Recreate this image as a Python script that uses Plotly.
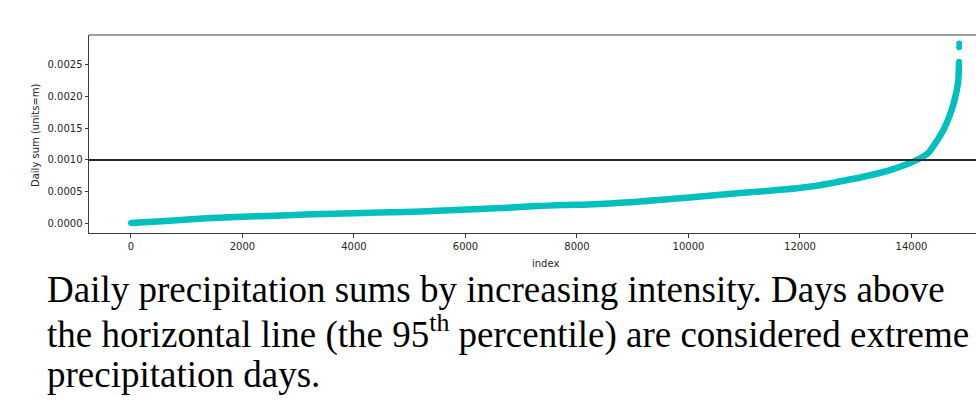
import plotly.graph_objects as go

# Sorted daily precipitation sums (metres) at selected day indices
day_index = [0, 700, 1350, 2000, 2600, 3250, 4000, 4900, 5500, 6150, 6750,
             7200, 7750, 8200, 8950, 9670, 10270, 10870, 11460, 11940, 12300,
             12600, 13200, 13670, 14030, 14300, 14570, 14720, 14800,
             14840, 14850, 14852]
daily_sum = [0.000005, 0.000042, 0.000079, 0.000105, 0.000120, 0.000142,
             0.000160, 0.000178, 0.000199, 0.000221, 0.000246, 0.000268,
             0.000289, 0.000298, 0.000331, 0.000384, 0.000426, 0.000474,
             0.000515, 0.000553, 0.000594, 0.000641, 0.000747, 0.000857,
             0.000973, 0.001110, 0.001470, 0.001790, 0.002050,
             0.002260, 0.002450, 0.002550]

# The wettest days, drawn as separate dots
top_index = [14852, 14854, 14856]
top_sum = [0.002550, 0.002780, 0.002840]

threshold = 0.0010  # 95th percentile

x_ticks = [0, 2000, 4000, 6000, 8000, 10000, 12000, 14000]
y_ticks = [0.0000, 0.0005, 0.0010, 0.0015, 0.0020, 0.0025]

caption_lines = [
    "Daily precipitation sums by increasing intensity. Days above",
    "the horizontal line (the 95<sup>th</sup> percentile) are considered extreme",
    "precipitation days.",
]

teal = "#00bfbf"
axis_col = "#3c3c3c"
tick_font = dict(family="DejaVu Sans", size=10, color="#262626")

fig = go.Figure()

fig.add_trace(go.Scatter(
    x=day_index, y=daily_sum, mode="lines",
    line=dict(color=teal, width=6.5, shape="spline", smoothing=0.6),
    hoverinfo="skip", showlegend=False))
fig.add_trace(go.Scatter(
    x=[day_index[0]] + top_index, y=[daily_sum[0]] + top_sum, mode="markers",
    marker=dict(color=teal, size=6), hoverinfo="skip", showlegend=False))

# Threshold line
fig.add_shape(type="line", xref="paper", x0=0, x1=1, yref="y",
              y0=threshold, y1=threshold, line=dict(color="#2a2a2a", width=2))
# Top frame edge
fig.add_shape(type="line", xref="paper", x0=0, x1=1, yref="paper",
              y0=1, y1=1, line=dict(color=axis_col, width=1))

fig.update_xaxes(
    range=[-753, 15157], tickvals=x_ticks, ticktext=[str(v) for v in x_ticks],
    showline=True, linecolor=axis_col, linewidth=1,
    ticks="outside", ticklen=3.5, tickwidth=1, tickcolor=axis_col,
    showgrid=False, zeroline=False, tickfont=tick_font)
fig.update_yaxes(
    range=[-0.000153, 0.002973], tickvals=y_ticks,
    ticktext=[f"{v:.4f}" for v in y_ticks],
    showline=True, linecolor=axis_col, linewidth=1,
    ticks="outside", ticklen=3.5, tickwidth=1, tickcolor=axis_col,
    showgrid=False, zeroline=False, tickfont=tick_font)

annotations = [
    dict(text="index", xref="paper", yref="paper", x=(545 - 89) / 887,
         y=-30 / 198, xanchor="center", yanchor="middle", showarrow=False,
         font=tick_font),
    dict(text="Daily sum (units=m)", xref="paper", yref="paper",
         x=-(89 - 35) / 887, y=(233 - 135) / 198, textangle=-90,
         xanchor="center", yanchor="middle", showarrow=False, font=tick_font),
]
caption_font = dict(family="Liberation Serif", size=37, color="#000000")
for i, line in enumerate(caption_lines):
    center_y = 289 + i * 42.5
    annotations.append(dict(
        text=line, xref="paper", yref="paper",
        x=(45 - 89) / 887, y=(233 - center_y) / 198,
        xanchor="left", yanchor="middle", showarrow=False, font=caption_font))

fig.update_layout(
    width=976, height=402,
    margin=dict(l=89, r=0, t=35, b=169, pad=0),
    paper_bgcolor="white", plot_bgcolor="white",
    annotations=annotations, showlegend=False)

fig.write_html("out.html", config={"displayModeBar": False})
